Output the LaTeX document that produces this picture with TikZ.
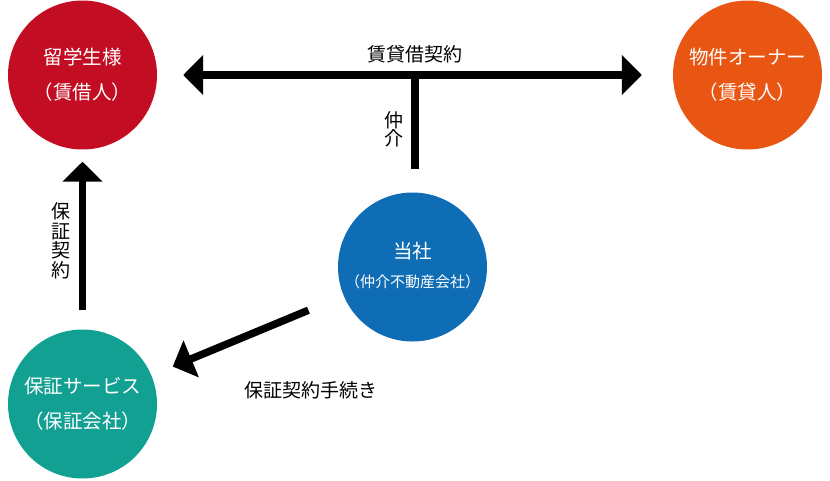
\documentclass[tikz,border=0pt]{standalone}
\usepackage{fontspec}
\setmainfont{Noto Sans CJK JP}
\usetikzlibrary{arrows.meta}
\definecolor{studentred}{HTML}{C30D23}
\definecolor{ownerorange}{HTML}{E95513}
\definecolor{agencyblue}{HTML}{0F6DB6}
\definecolor{guarantorteal}{HTML}{12A092}

\begin{document}
\begin{tikzpicture}[x=1pt,y=-1pt,
		party/.style={circle,minimum size=149pt,inner sep=0pt,text=white,align=center,font=\fontsize{19.5}{35}\selectfont},
		flow/.style={line width=8pt,-{Triangle[length=20pt,width=39pt]}},
		caption/.style={font=\fontsize{19}{18}\selectfont,align=center,inner sep=0pt}]
		\useasboundingbox (0, 0) rectangle (830, 480);
		\node[party,fill=studentred] (student) at (82.5, 75) {留学生様\\（賃借人）};
		\node[party,fill=ownerorange] (owner) at (747.5, 75) {物件オーナー\\（賃貸人）};
		\node[party,fill=agencyblue] (agency) at (412.5, 267) {\raisebox{4pt}{当社}\\[-6pt]{\fontsize{15}{15}\selectfont \raisebox{4pt}{（仲介不動産会社）}}};
		\node[party,fill=guarantorteal] (guarantor) at (82.5, 404) {保証サービス\\（保証会社）};
		\coordinate (stem) at (414.5, 75);
		\draw [flow, {Triangle[length=20pt,width=39pt]}-{Triangle[length=20pt,width=39pt]}, shorten <=26pt, shorten >=31pt] (student) -- (owner) node[caption,pos=0.5,above=8pt] {賃貸借契約};
		\draw [line width=8pt, shorten >=23.5pt] (stem) -- (agency.north -| stem);
		\node[caption] (brokerage) at (394, 129) {仲\\介};
		\draw [flow, line width=7.5pt, shorten <=19pt, shorten >=12pt] (guarantor) -- (student);
		\node[caption,font=\fontsize{19}{19.5}\selectfont] (guarantee) at (61, 241) {保\\証\\契\\約};
		\draw [flow, line width=7.5pt, shorten <=38pt, shorten >=23pt] (agency) -- (guarantor);
		\node[caption] (procedure) at (311, 390) {保証契約手続き};
\end{tikzpicture}
\end{document}
